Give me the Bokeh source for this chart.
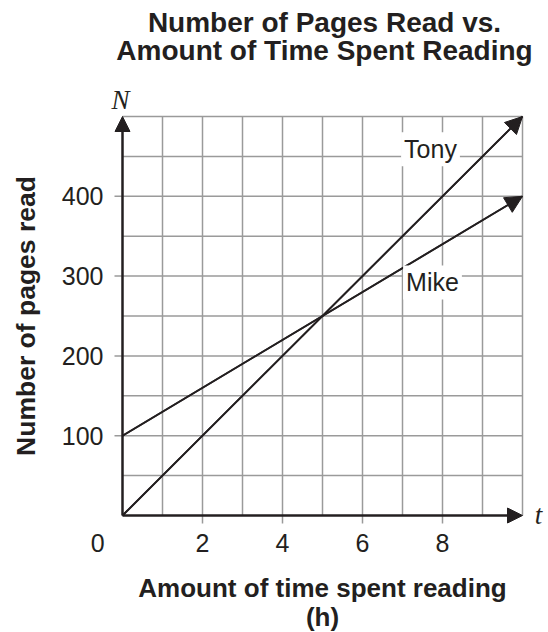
import math
from bokeh.plotting import figure
from bokeh.models import Range1d, Arrow, NormalHead, Label, ColumnDataSource
from bokeh.core.properties import value
from bokeh.embed import file_html
from bokeh.resources import INLINE

# data
tony_t = [0, 10]
tony_n = [0, 500]
mike_t = [0, 10]
mike_n = [100, 400]
x_ticks = [2, 4, 6, 8]
x_tick_labels = ["2", "4", "6", "8"]
y_ticks = [100, 200, 300, 400]
y_tick_labels = ["100", "200", "300", "400"]
grid_x = [1, 2, 3, 4, 5, 6, 7, 8, 9, 10]
grid_y = [50, 100, 150, 200, 250, 300, 350, 400, 450, 500]
title_lines = ["Number of Pages Read vs.", "Amount of Time Spent Reading"]
x_max = 10
y_max = 500

FONT = "Liberation Sans"
INK = "#231f20"
GRID = "#9a9a9a"

W, H = 548, 632
PX_X = 40.0           # pixels per hour
PX_Y = 399.0 / 500.0  # pixels per page
X0, Y0 = 122.0, 515.0  # canvas position of the origin
x_lo = -X0 / PX_X
x_hi = (W - X0) / PX_X
y_hi = Y0 / PX_Y
y_lo = (Y0 - H) / PX_Y

p = figure(width=W, height=H, output_backend="svg", toolbar_location=None,
           x_range=Range1d(x_lo, x_hi), y_range=Range1d(y_lo, y_hi), min_border=0)
p.outline_line_color = None
p.xgrid.visible = False
p.ygrid.visible = False
p.xaxis.visible = False
p.yaxis.visible = False

# title (two centred lines)
for txt, ty in zip(title_lines, [(Y0 - 22) / PX_Y, (Y0 - 50) / PX_Y]):
    p.add_layout(Label(x=5.05, y=ty, text=txt, text_align="center", text_baseline="middle",
                       text_font=FONT, text_font_size="28px", text_font_style="bold",
                       text_color=INK))

# grid
p.segment(x0=grid_x, y0=[0] * len(grid_x), x1=grid_x, y1=[y_max] * len(grid_x),
          line_color=GRID, line_width=1.5)
p.segment(x0=[0] * len(grid_y), y0=grid_y, x1=[x_max] * len(grid_y), y1=grid_y,
          line_color=GRID, line_width=1.5)

# tick marks (8 px outside the axes)
p.segment(x0=x_ticks, y0=[0] * 4, x1=x_ticks, y1=[-8 / PX_Y] * 4, line_color=GRID, line_width=1.5)
p.segment(x0=[0] * 4, y0=y_ticks, x1=[-8 / PX_X] * 4, y1=y_ticks, line_color=GRID, line_width=1.5)

# tick labels
p.text(x=x_ticks, y=[-34] * 4, text=x_tick_labels, text_align="center", text_baseline="middle",
       text_font=value(FONT), text_font_size="25px", text_color=INK)
p.text(x=[-19 / PX_X] * 4, y=y_ticks, text=y_tick_labels, text_align="right", text_baseline="middle",
       text_font=value(FONT), text_font_size="25px", text_color=INK)
p.text(x=[-0.62], y=[-34], text=["0"], text_align="center", text_baseline="middle",
       text_font=value(FONT), text_font_size="25px", text_color=INK)

# axis titles
p.add_layout(Label(x=5, y=-91, text="Amount of time spent reading", text_align="center",
                   text_baseline="middle", text_font=FONT, text_font_size="26px",
                   text_font_style="bold", text_color=INK))
p.add_layout(Label(x=5, y=-127, text="(h)", text_align="center",
                   text_baseline="middle", text_font=FONT, text_font_size="26px",
                   text_font_style="bold", text_color=INK))
p.add_layout(Label(x=-2.42, y=250, text="Number of pages read", text_align="center",
                   text_baseline="middle", angle=math.pi / 2, text_font=FONT, text_font_size="26.5px",
                   text_font_style="bold", text_color=INK))

# axis arrows
p.add_layout(Arrow(x_start=0, y_start=0, x_end=x_max, y_end=0, line_color=INK, line_width=2.5,
                   end=NormalHead(size=15, fill_color=INK, line_color=INK, line_width=1)))
p.add_layout(Arrow(x_start=0, y_start=0, x_end=0, y_end=y_max, line_color=INK, line_width=2.5,
                   end=NormalHead(size=15, fill_color=INK, line_color=INK, line_width=1)))

# data lines
p.line(tony_t, tony_n, line_color=INK, line_width=1.8)
p.line(mike_t, mike_n, line_color=INK, line_width=1.8)
heads = ColumnDataSource(dict(x0=[tony_t[0], mike_t[0]], y0=[tony_n[0], mike_n[0]],
                              x1=[tony_t[-1], mike_t[-1]], y1=[tony_n[-1], mike_n[-1]]))
p.add_layout(Arrow(x_start="x0", y_start="y0", x_end="x1", y_end="y1", source=heads,
                   line_color=INK, line_width=1.8,
                   end=NormalHead(size=17, fill_color=INK, line_color=INK, line_width=1)))

# series labels
p.add_layout(Label(x=7.7, y=459, text="Tony", text_align="center", text_baseline="middle",
                   text_font=FONT, text_font_size="25px", text_color=INK,
                   background_fill_color="white", padding=3))
p.add_layout(Label(x=7.75, y=292, text="Mike", text_align="center", text_baseline="middle",
                   text_font=FONT, text_font_size="25px", text_color=INK,
                   background_fill_color="white", padding=3))

# axis variable letters
p.add_layout(Label(x=-0.05, y=521, text="N", text_align="center", text_baseline="middle",
                   text_font="Liberation Serif", text_font_style="italic",
                   text_font_size="27px", text_color=INK))
p.add_layout(Label(x=10.4, y=1, text="t", text_align="center", text_baseline="middle",
                   text_font="Liberation Serif", text_font_style="italic",
                   text_font_size="27px", text_color=INK))

open("out.html", "w").write(file_html(p, INLINE))
